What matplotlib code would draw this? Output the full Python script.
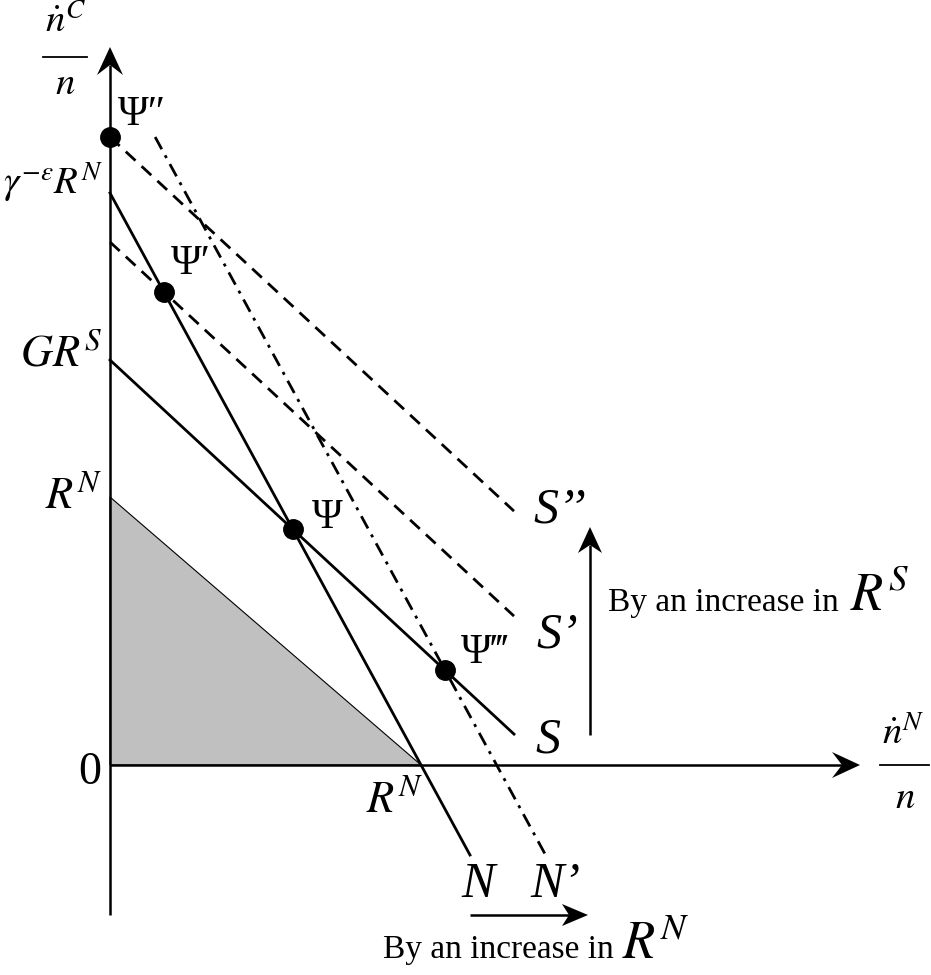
import numpy as np
import matplotlib
matplotlib.use("Agg")
import matplotlib.pyplot as plt
from matplotlib.patches import Polygon

plt.rcParams['font.family'] = ['Liberation Serif', 'DejaVu Serif']
plt.rcParams['mathtext.fontset'] = 'stix'
plt.rcParams['lines.scale_dashes'] = False

# curve parameters (diagram units)
s_names = ["S", "S’", "S’’"]
s_intercepts = [405, 523, 628]      # S, S', S''
s_slope = -0.926
n_names = ["N", "N’"]
n_intercepts = [572, 711]           # N, N'
n_slope = -1.839
rn_level = 268                      # R^N on the vertical axis
s_end = 404                         # right end of the S curves
n_bottom = -90                      # lower end of the N curves
psi_names = ["Ψ", "Ψ′", "Ψ″", "Ψ‴"]

def s_curve(i, x):
    return s_intercepts[i] + s_slope * x

def n_curve(i, x):
    return n_intercepts[i] + n_slope * x

def meet(si, ni):
    x = (n_intercepts[ni] - s_intercepts[si]) / (s_slope - n_slope)
    return x, s_curve(si, x)

def arrow(ax, x0, y0, x1, y1, hl, hw, notch, lw=1.8):
    d = np.array([x1 - x0, y1 - y0], float)
    u = d / np.hypot(*d)
    p = np.array([-u[1], u[0]])
    tip = np.array([x1, y1], float)
    back = tip - u * hl
    ax.plot([x0, back[0] + u[0] * notch], [y0, back[1] + u[1] * notch],
            color='k', lw=lw, solid_capstyle='butt')
    pts = [tip, back + p * hw / 2, tip - u * (hl - notch), back - p * hw / 2]
    ax.add_patch(Polygon(pts, closed=True, color='k', lw=0))

fig = plt.figure(figsize=(9.31, 9.75), dpi=100)
ax = fig.add_axes([0, 0, 1, 1])
ax.set_xlim(-110, 821)
ax.set_ylim(-210, 765)
ax.axis('off')

# shaded region under R^N
x_rn = n_intercepts[0] / -n_slope
ax.add_patch(Polygon([(0, 0), (x_rn, 0), (0, rn_level)], closed=True,
                     facecolor='#c0c0c0', edgecolor='k', lw=0.8))

# axes
arrow(ax, 0, -150, 0, 718, 28, 26, 10)
arrow(ax, 0, 0, 750, 0, 28, 26, 10)

# S curves
xs = np.array([0, s_end])
ax.plot(xs, s_curve(0, xs), color='k', lw=2.0)
for i in (1, 2):
    ax.plot(xs, s_curve(i, xs), color='k', lw=2.0, dashes=(9.5, 6))

# N curves
xn = np.array([0, (n_bottom - n_intercepts[0]) / n_slope])
ax.plot(xn, n_curve(0, xn), color='k', lw=2.0)
x_start = (s_intercepts[2] - n_intercepts[1]) / n_slope
xn2 = np.array([x_start, (n_bottom - n_intercepts[1]) / n_slope])
ax.plot(xn2, n_curve(1, xn2), color='k', lw=2.0, dashes=(10, 5, 2.2, 5))

# equilibrium points
psi = meet(0, 0)
psi1 = meet(1, 0)
psi2 = (0, s_intercepts[2])
psi3 = meet(0, 1)
for px, py in (psi, psi1, psi2, psi3):
    ax.plot(px, py, 'o', ms=14, color='k', zorder=5)

ax.text(psi[0] + 34, psi[1] + 12, psi_names[0], fontsize=30, ha='center', va='center')
ax.text(psi1[0] + 27, psi1[1] + 28, psi_names[1], fontsize=30, ha='center', va='center')
ax.text(psi2[0] + 32, psi2[1] + 22, psi_names[2], fontsize=30, ha='center', va='center')
ax.text(psi3[0] + 40, psi3[1] + 18, psi_names[3], fontsize=30, ha='center', va='center')

# curve labels
ax.text(450, 255, s_names[2], fontsize=36, style='italic', ha='center', va='center')
ax.text(447, 130, s_names[1], fontsize=36, style='italic', ha='center', va='center')
ax.text(438, 25, s_names[0], fontsize=36, style='italic', ha='center', va='center')
ax.text(368, -120, n_names[0], fontsize=36, style='italic', ha='center', va='center')
ax.text(445, -120, n_names[1], fontsize=36, style='italic', ha='center', va='center')

# axis values
ax.text(-20, -8, "0", fontsize=33, ha='center', va='center')
ax.text(x_rn + 2, -35, r"$R^N$", fontsize=32, ha='right', va='center')
ax.text(-8, rn_level, r"$R^N$", fontsize=32, ha='right', va='center')
ax.text(-8, s_intercepts[0] + 5, r"$GR^S$", fontsize=32, ha='right', va='center')
ax.text(-6, n_intercepts[0] + 10, r"$\gamma^{-\varepsilon}R^N$", fontsize=28,
        ha='right', va='center')

# axis titles as fractions
ax.text(-45, 742, r"$\dot{n}^C$", fontsize=28, ha='center', va='center')
ax.plot([-67, -23], [708, 708], color='k', lw=1.3)
ax.text(-45, 680, r"$n$", fontsize=28, ha='center', va='center')
ax.text(793, 30, r"$\dot{n}^N$", fontsize=28, ha='center', va='center')
ax.plot([770, 819], [0, 0], color='k', lw=1.3)
ax.text(795, -33, r"$n$", fontsize=28, ha='center', va='center')

# shift arrows
arrow(ax, 480, 30, 480, 238, 26, 24, 8)
ax.text(498, 162, "By an increase in", fontsize=24, ha='left', va='center')
ax.text(740, 168, r"$R^S$", fontsize=38, ha='left', va='center')

arrow(ax, 360, -150, 478, -150, 26, 22, 7)
ax.text(273, -185, "By an increase in", fontsize=24, ha='left', va='center')
ax.text(512, -181, r"$R^N$", fontsize=38, ha='left', va='center')

fig.savefig("out.png", dpi=100)
